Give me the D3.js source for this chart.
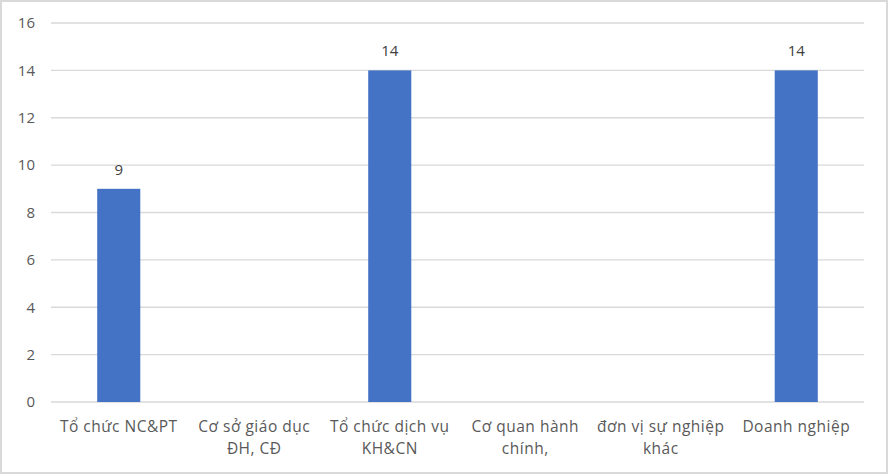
<!DOCTYPE html>
<html><head><meta charset="utf-8">
<script src="https://cdn.jsdelivr.net/npm/d3@7"></script>
<style>body{margin:0;background:#fff}svg{display:block}</style>
</head><body>
<svg id="c" width="888" height="474"></svg>
<script>
const categories = [["Tổ chức NC&PT"],["Cơ sở giáo dục","ĐH, CĐ"],["Tổ chức dịch vụ","KH&CN"],["Cơ quan hành","chính,"],["đơn vị sự nghiệp","khác"],["Doanh nghiệp"]];
const values = [9, 0, 14, 0, 0, 14];
const yTicks = [0,2,4,6,8,10,12,14,16];

const svg = d3.select("#c");
const font = "'Open Sans', 'Noto Sans', sans-serif";
svg.append("rect").attr("x",1).attr("y",1).attr("width",886).attr("height",472)
  .attr("fill","#fff").attr("stroke","#d9d9d9").attr("stroke-width",2);

const x = d3.scaleBand().domain(d3.range(categories.length)).range([51,864]).padding(0);
const y = d3.scaleLinear().domain([0,16]).range([402,23]);

svg.append("g").selectAll("line").data(yTicks).join("line")
  .attr("x1",51).attr("x2",864).attr("y1",d=>y(d)).attr("y2",d=>y(d))
  .attr("stroke","#d9d9d9").attr("stroke-width",1.3);

const yAxis = svg.append("g").attr("transform","translate(35,0)")
  .call(d3.axisLeft(y).tickValues(yTicks).tickSize(0).tickPadding(0));
yAxis.select(".domain").remove();
yAxis.selectAll("text").attr("fill","#595959").style("font-family",font).style("font-size","15px");

const bw = x.bandwidth()*0.318;
const bars = values.map((v,i)=>({v,i})).filter(d=>d.v>0);
svg.append("g").selectAll("rect").data(bars).join("rect")
  .attr("x",d=>x(d.i)+(x.bandwidth()-bw)/2).attr("width",bw)
  .attr("y",d=>y(d.v)).attr("height",d=>y(0)-y(d.v)).attr("fill","#4472c4");

svg.append("g").selectAll("text").data(bars).join("text")
  .attr("x",d=>x(d.i)+x.bandwidth()/2).attr("y",d=>y(d.v)-14)
  .attr("text-anchor","middle").attr("fill","#404040")
  .style("font-family",font).style("font-size","15px").text(d=>d.v);

const xl = svg.append("g").selectAll("text").data(categories).join("text")
  .attr("x",(d,i)=>x(i)+x.bandwidth()/2).attr("y",432)
  .attr("text-anchor","middle").attr("fill","#595959")
  .style("font-family",font).style("font-size","15.5px").style("letter-spacing","0.5px");
xl.selectAll("tspan").data(d=>d).join("tspan")
  .attr("x",function(){return this.parentNode.getAttribute("x");})
  .attr("dy",(d,j)=>j===0?0:22).text(d=>d);
</script>
</body></html>
